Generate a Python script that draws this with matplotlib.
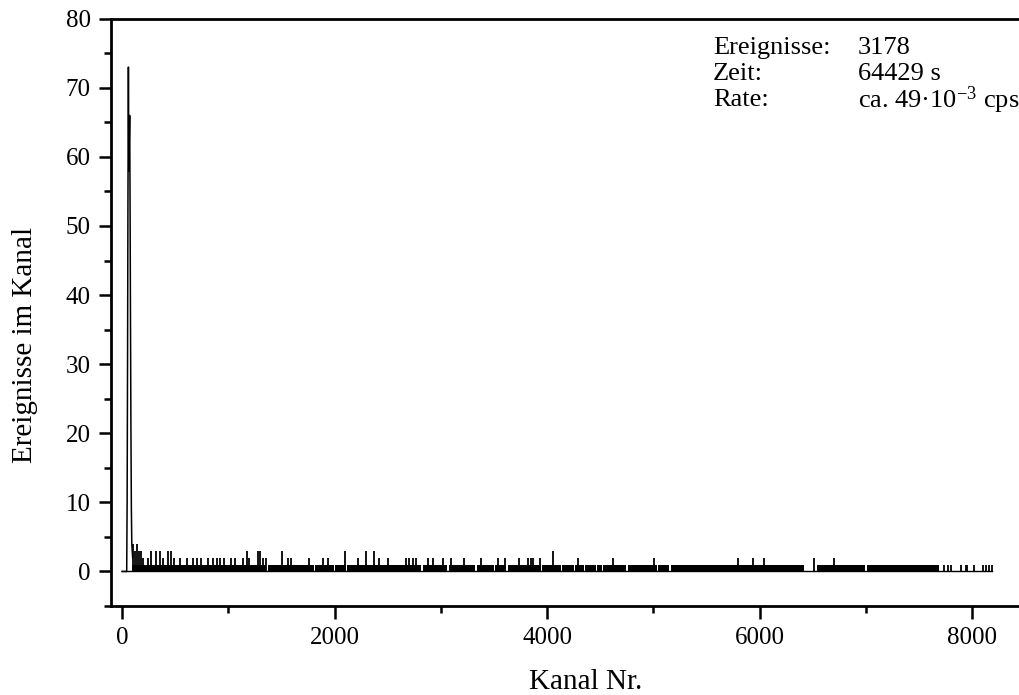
import numpy as np
import matplotlib.pyplot as plt

plt.rcParams['font.family'] = 'Liberation Serif'
plt.rcParams['mathtext.fontset'] = 'custom'
plt.rcParams['mathtext.rm'] = 'Liberation Serif'
plt.rcParams['mathtext.default'] = 'regular'

# Rauschpeak am Anfang des Spektrums (Kanal, Ereignisse)
peak_ch = [0, 30, 44, 48, 52, 56, 60, 64, 68, 72, 76, 80, 84, 88, 92, 96, 100]
peak_n = [0, 0, 0, 10, 30, 55, 73, 58, 62, 66, 52, 35, 20, 9, 4, 3, 2]

# Kanalbereiche, in denen 0/1 Ereignisse dicht liegen
band_lo = [95, 1370, 1820, 2005, 2115, 2830, 3075, 3340, 3515, 3628, 3955,
           4142, 4265, 4360, 4472, 4530, 4760, 5048, 5165, 6545, 7015]
band_hi = [1355, 1805, 1995, 2105, 2810, 3055, 3320, 3500, 3612, 3940, 4130,
           4252, 4345, 4460, 4515, 4740, 5035, 5145, 6420, 6990, 7690]

# einzelne Kanaele mit 1 Ereignis am Ende
ones_ch = [7740, 7775, 7800, 7895, 7940, 7952, 8022, 8107, 8135, 8164, 8185]

# Kanaele mit mehr als einem Ereignis
spike_ch = [107, 118, 139, 158, 180, 195,
            242, 274, 321, 358, 383, 430, 462, 493,
            547, 609, 666, 703, 744, 807, 854, 892, 923, 964,
            1027, 1067, 1136, 1174, 1199, 1277, 1300, 1331, 1356,
            1503, 1560, 1591, 1764, 1889, 1936,
            2102, 2219, 2297, 2376, 2423, 2501,
            2674, 2705, 2736, 2768, 2877, 2924, 3019, 3097, 3216,
            3380, 3536, 3606, 3740, 3819, 3850, 3872, 3935, 4054,
            4289, 4619, 5011, 5795, 5936, 6046, 6517, 6705]
spike_n = [4, 3, 4, 3, 3, 2,
           2, 3, 3, 3, 2, 3, 3, 2,
           2, 2, 2, 2, 2, 2, 2, 2, 2, 2,
           2, 2, 2, 3, 2, 3, 3, 2, 2,
           3, 2, 2, 2, 2, 2,
           3, 2, 3, 3, 2, 2,
           2, 2, 2, 2, 2, 2, 2, 2, 2,
           2, 2, 2, 2, 2, 2, 2, 2, 3,
           2, 2, 2, 2, 2, 2, 2, 2]

n_kanaele = 8192

W, H = 1019, 695
fig = plt.figure(figsize=(W / 100, H / 100), dpi=100)
# Achse ragt rechts etwas ueber den Rand hinaus
ax = fig.add_axes([111.4 / W, (H - 606) / H, 913.75 / W, (606 - 18.7) / H])

ax.plot([0, n_kanaele - 1], [0, 0], color='black', lw=1.0)
ax.plot(peak_ch, peak_n, color='black', lw=1.1)
for lo, hi in zip(band_lo, band_hi):
    ax.fill_between([lo, hi], 0, 1, color='black', lw=0)
ax.vlines(ones_ch, 0, 1, color='black', lw=1.3)
ax.vlines(spike_ch, 0, spike_n, color='black', lw=1.3)

ax.set_xlim(-100, 8500)
ax.set_ylim(-5, 80)
ax.set_xticks([0, 2000, 4000, 6000, 8000])
ax.set_xticks([1000, 3000, 5000, 7000], minor=True)
ax.set_yticks(np.arange(0, 81, 10))
ax.set_yticks(np.arange(-5, 80, 10), minor=True)

for s in ['left', 'bottom', 'top']:
    ax.spines[s].set_linewidth(2)
ax.spines['right'].set_visible(False)
ax.tick_params(which='major', direction='out', length=9, width=1.8,
               labelsize=18, pad=6)
ax.tick_params(which='minor', direction='out', length=5, width=1.8)

ax.set_xlabel('Kanal Nr.', fontsize=21)
ax.set_ylabel('Ereignisse im Kanal', fontsize=21)
ax.xaxis.set_label_coords(0.519, -0.108)
ax.yaxis.set_label_coords(-0.08, 0.445)

rows = [('Ereignisse:', '3178'),
        ('Zeit:', '64429 s'),
        ('Rate:', 'ca. 49·10$^{-3}$ cps')]
for i, (lab, val) in enumerate(rows):
    y = 1 - (48 + 26 * i) / H
    fig.text(713 / W, y, lab, fontsize=19, va='center')
    fig.text(858 / W, y, val, fontsize=19, va='center')

fig.savefig('out.png', dpi=100)
